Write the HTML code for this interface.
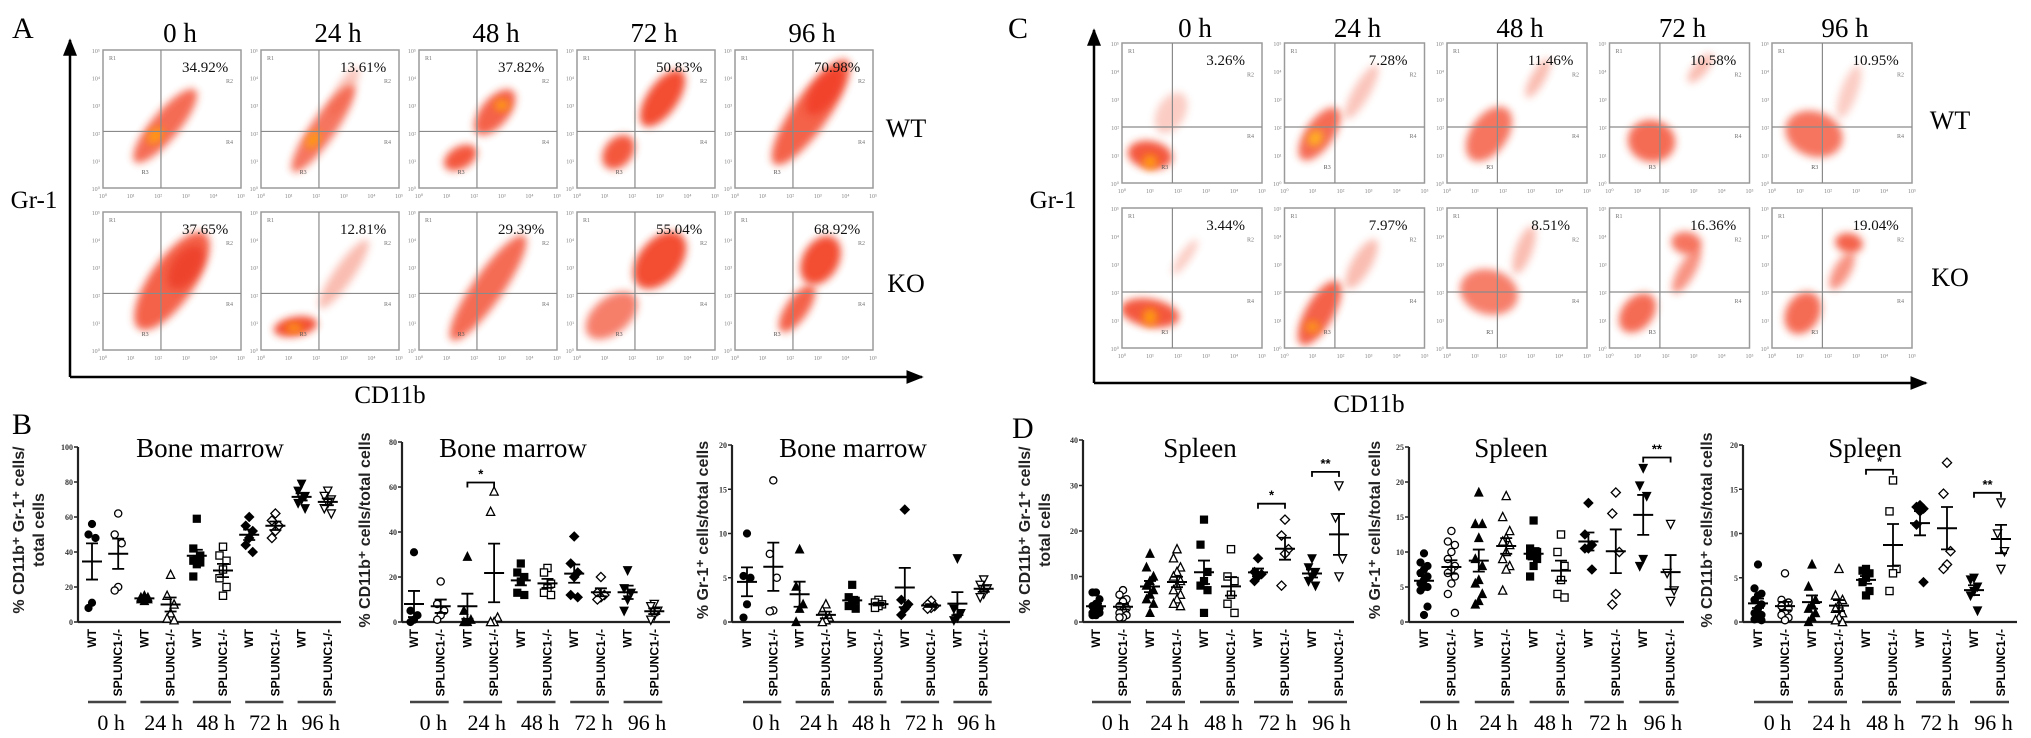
<!DOCTYPE html>
<html><head><meta charset="utf-8">
<style>
html,body{margin:0;padding:0;background:#fff;}
svg{display:block;font-family:"Liberation Serif",serif;}
.sans{font-family:"Liberation Sans",sans-serif;}
</style></head>
<body>
<svg id="fig" width="2031" height="738" viewBox="0 0 2031 738" xmlns="http://www.w3.org/2000/svg">
<defs>
<filter id="blur" x="-50%" y="-50%" width="200%" height="200%"><feGaussianBlur stdDeviation="4"/></filter>
<marker id="arr" viewBox="0 0 10 10" refX="9" refY="5" markerWidth="7" markerHeight="7" orient="auto"><path d="M0,1 L10,5 L0,9 z" fill="#000"/></marker>
</defs>
</svg>
<script>
// ---------- chart data ----------
const groups = ['0 h','24 h','48 h','72 h','96 h'];
const genotypes = ['WT','SPLUNC1-/-'];

const b1Ticks = [0,20,40,60,80,100];
const b1WT = [[56,50,48,11,8],[15,14,13,12,13,14],[59,42,38,36,35,34,33,26],[60,55,52,48,44,40],[79,75,72,70,68,65]];
const b1KO = [[62,50,45,20,18],[27,15,10,5,2,1],[43,38,35,30,25,20,15],[62,58,55,52,48],[75,72,70,68,65,62]];
const b1Sig = [];

const b2Ticks = [0,20,40,60,80];
const b2WT = [[31,5,3,1,0],[29,5,1,0,0],[26,22,20,18,13,12],[38,26,22,20,12,11],[23,15,13,10,5]];
const b2KO = [[18,8,5,3,1],[58,49,2,0,0],[24,22,17,15,13,12],[20,13,12,11,10],[8,7,5,3,1]];
const b2Sig = [{g:1,v:62,label:'*'}];

const b3Ticks = [0,5,10,15,20];
const b3WT = [[10,5.2,5,2,0.5],[8.2,4,2,1.5,0],[4.2,2.8,2.4,2,1.8,1.5],[12.7,2.5,2,1.5,0.8],[7.2,1.5,1,0.5,0.2]];
const b3KO = [[16,7.7,5,1.3,1.2],[2,1.3,0.5,0.2,0],[2.5,2.2,2,1.8,1.6],[2.4,2,1.8,1.6,1.5],[4.8,4.2,3.8,3.2,2.8]];
const b3Sig = [];

const d1Ticks = [0,10,20,30,40];
const d1WT = [[6.5,6.5,5,4,3.5,3,2.5,2,2,1.5,1.5],[15,12,10,9,8,7,6,5,4,2],[22.5,17,11,9,8,7,2],[14,11,10.5,10,9],[14,12,11,10,9,8]];
const d1KO = [[7,6,5,4.5,3.5,3,2.5,2,1.5,1,1],[16,14,12,11,10,9,8,7,6,5,4,3.5],[16,10,9,6,4,2],[22.5,19,16,15,8],[30,23,14,10]];
const d1Sig = [{g:3,v:26,label:'*'},{g:4,v:33,label:'**'}];

const d2Ticks = [0,5,10,15,20,25];
const d2WT = [[9.8,8.5,8,7.5,7,6.5,6,5.5,5,5,4.5,2.2,1],[18.5,14,14,12,9,8,6,5.5,4,3,2.5],[14.5,10.5,10,10,9.5,9,8,6.5],[17,12.5,11,10.5,10.5,7.5],[22,19.5,18,9,8]];
const d2KO = [[13,11.5,11,10,9,8,7.5,7,6.5,5.5,4,1.3],[18,15,13,12,11.5,11,10,9,8,7.5,4.5],[12.5,10,8,6,4,3.5],[18.5,15.5,10,4,2.5],[14,7,4.5,3]];
const d2Sig = [{g:4,v:23.5,label:'**'}];

const d3Ticks = [0,5,10,15,20];
const d3WT = [[6.5,3.8,3.2,3,2.5,2,1.5,1,0.8,0.5,0.3,0.2],[6.5,4,2.5,2,1.5,1,0.5,0],[6,5.8,5.5,5,4.5,3.5,3],[13.2,13,12.8,12.5,11,4.5],[5,4.8,4,3.5,3,1.3]];
const d3KO = [[5.5,2.5,2.2,2,1.8,1.5,1,0.8,0.5,0.2],[6,3,2.5,2,1.5,1,0.5,0.2,0],[16,12.5,6,5.5,3.5],[18,14.5,8,6.5,6],[13.5,10,8,6]];
const d3Sig = [{g:2,v:17.2,label:'*'},{g:4,v:14.6,label:'**'}];

// flow-cytometry percentages
const pctA_WT = ['34.92%','13.61%','37.82%','50.83%','70.98%'];
const pctA_KO = ['37.65%','12.81%','29.39%','55.04%','68.92%'];
const pctC_WT = ['3.26%','7.28%','11.46%','10.58%','10.95%'];
const pctC_KO = ['3.44%','7.97%','8.51%','16.36%','19.04%'];

// ---------- helpers ----------
const NS='http://www.w3.org/2000/svg';
const svg=document.getElementById('fig');
function mk(tag,attrs,parent){const e=document.createElementNS(NS,tag);for(const k in attrs)e.setAttribute(k,attrs[k]);(parent||svg).appendChild(e);return e;}
function txt(s,attrs,parent){const e=mk('text',attrs,parent);e.textContent=s;return e;}

// ---------- flow panels ----------
const blobsA = [
 [[[.45,.55,.34,.1,-50,.75,'#f23a1c'],[.38,.62,.07,.045,-50,1,'#ff9a10']],
  [[.45,.57,.38,.09,-55,.7,'#f23a1c'],[.6,.3,.2,.06,-60,.35,'#f25a3c'],[.38,.65,.07,.04,-55,1,'#ff9a10']],
  [[.3,.78,.13,.08,-30,.85,'#f23a1c'],[.55,.45,.2,.1,-50,.8,'#f23a1c'],[.6,.4,.05,.04,0,1,'#ff9a10']],
  [[.3,.74,.14,.1,-50,.85,'#f23a1c'],[.62,.35,.24,.11,-55,.9,'#f23a1c']],
  [[.55,.45,.46,.13,-55,.8,'#f23a1c'],[.65,.3,.2,.09,-55,.65,'#f0301a']]],
 [[[.5,.5,.42,.16,-55,.8,'#f23a1c'],[.6,.4,.18,.1,-55,.55,'#e82a14']],
  [[.25,.83,.16,.07,-10,.9,'#f23a1c'],[.24,.84,.06,.03,0,1,'#ff9a10'],[.6,.45,.3,.07,-55,.4,'#f25a3c']],
  [[.5,.55,.46,.11,-55,.75,'#f23a1c']],
  [[.25,.75,.22,.13,-40,.65,'#f23a1c'],[.6,.35,.24,.15,-50,.9,'#f23a1c']],
  [[.45,.7,.2,.08,-55,.8,'#f23a1c'],[.62,.35,.19,.13,-60,.9,'#f23a1c']]]
];
const blobsC = [
 [[[.2,.8,.1,.16,-80,.85,'#f23a1c'],[.2,.85,.05,.05,0,1,'#ff9a10'],[.35,.5,.16,.1,-60,.3,'#f25a3c']],
  [[.25,.65,.22,.1,-55,.75,'#f23a1c'],[.22,.68,.06,.05,-50,1,'#ffb020'],[.55,.35,.22,.06,-60,.35,'#f25a3c']],
  [[.3,.65,.22,.13,-55,.7,'#f23a1c'],[.65,.25,.16,.05,-60,.4,'#f25a3c']],
  [[.3,.7,.15,.17,-80,.75,'#f23a1c'],[.65,.18,.13,.05,-50,.4,'#f25a3c']],
  [[.3,.65,.16,.21,-70,.7,'#f23a1c'],[.55,.35,.2,.06,-70,.3,'#f25a3c']]],
 [[[.2,.75,.1,.21,-80,.85,'#f23a1c'],[.2,.78,.05,.06,0,1,'#ff9a10'],[.45,.35,.15,.04,-55,.3,'#f25a3c']],
  [[.25,.75,.26,.1,-60,.8,'#f23a1c'],[.2,.85,.05,.04,0,.9,'#ff9a10'],[.55,.4,.2,.07,-60,.4,'#f25a3c']],
  [[.3,.6,.16,.21,-75,.65,'#f23a1c'],[.55,.3,.18,.06,-70,.4,'#f25a3c']],
  [[.2,.75,.16,.11,-50,.75,'#f23a1c'],[.55,.45,.18,.06,-60,.55,'#f23a1c'],[.55,.25,.08,.11,-80,.7,'#f23a1c']],
  [[.22,.75,.16,.12,-60,.75,'#f23a1c'],[.5,.45,.15,.06,-60,.55,'#f23a1c'],[.55,.25,.07,.1,-80,.8,'#f23a1c']]]
];

function flowPlot(x0,y0,w,h,vfrac,hfrac,blobs,pct,name){
  const g=mk('g',{});
  
  
  const clipId='c'+name;
  const cp=mk('clipPath',{id:clipId},g);
  mk('rect',{x:x0,y:y0,width:w,height:h},cp);
  const bg=mk('g',{'clip-path':'url(#'+clipId+')'},g);
  blobs.forEach(b=>{
    const e=mk('ellipse',{cx:x0+b[0]*w,cy:y0+b[1]*h,rx:b[2]*w,ry:b[3]*h,fill:b[6],opacity:b[5],filter:'url(#blur)',transform:`rotate(${b[4]} ${x0+b[0]*w} ${y0+b[1]*h})`},bg);
    
    
  });
  const box=mk('rect',{x:x0,y:y0,width:w,height:h,fill:'none',stroke:'#9a9a9a','stroke-width':1.5},g);
  
  
  mk('line',{x1:x0+vfrac*w,y1:y0,x2:x0+vfrac*w,y2:y0+h,stroke:'#8a8a8a','stroke-width':1.2},g);
  mk('line',{x1:x0,y1:y0+hfrac*h,x2:x0+w,y2:y0+hfrac*h,stroke:'#8a8a8a','stroke-width':1.2},g);
  for(let i=0;i<6;i++){
    const tx=txt('10'+'⁰¹²³⁴⁵'[i],{x:x0+i*w/5,y:y0+h+10,'font-size':6,fill:'#888','text-anchor':'middle'},g);
    
    
    const ty=txt('10'+'⁰¹²³⁴⁵'[5-i],{x:x0-3,y:y0+i*h/5+3,'font-size':6,fill:'#888','text-anchor':'end'},g);
    
    
  }
  txt('R1',{x:x0+6,y:y0+10,'font-size':6,fill:'#777'},g);
  txt('R2',{x:x0+w-8,y:y0+h*0.24,'font-size':6,fill:'#777','text-anchor':'end'},g);
  txt('R4',{x:x0+w-8,y:y0+h*0.68,'font-size':6,fill:'#777','text-anchor':'end'},g);
  txt('R3',{x:x0+w*0.28,y:y0+h*0.9,'font-size':6,fill:'#555'},g);
  const p=txt(pct,{x:x0+w*0.74,y:y0+22,'font-size':15,fill:'#111','text-anchor':'middle'},g);
  
  
}

function flowPanel(cfg){
  const L=txt(cfg.letter,{x:cfg.letterX,y:38,'font-size':30});
  
  
  for(let i=0;i<5;i++){
    const x0=cfg.x0+i*cfg.step;
    const hd=txt(groups[i],{x:x0+cfg.w/2+cfg.hdOff,y:cfg.hdY,'font-size':27,'text-anchor':'middle'});
    
    
    flowPlot(x0,cfg.r1,cfg.w,cfg.h,cfg.vf,cfg.hf1,cfg.blobs[0][i],cfg.pctWT[i],cfg.letter+'-wt-'+i);
    flowPlot(x0,cfg.r2,cfg.w,cfg.h,cfg.vf,cfg.hf2,cfg.blobs[1][i],cfg.pctKO[i],cfg.letter+'-ko-'+i);
  }
  const va=mk('line',{x1:cfg.ax,y1:cfg.axB,x2:cfg.ax,y2:cfg.axT,stroke:'#000','stroke-width':2.5,'marker-end':'url(#arr)'});
  
  
  const ha=mk('line',{x1:cfg.ax,y1:cfg.axB,x2:cfg.axR,y2:cfg.axB,stroke:'#000','stroke-width':2.5,'marker-end':'url(#arr)'});
  
  
  const gy=txt('Gr-1',{x:cfg.grX,y:cfg.grY,'font-size':25,'text-anchor':'middle'});
  
  
  const cx=txt('CD11b',{x:cfg.cdX,y:cfg.cdY,'font-size':25,'text-anchor':'middle'});
  
  
  const wt=txt('WT',{x:cfg.rowX,y:cfg.wtY,'font-size':26,'text-anchor':'middle'});
  
  
  const ko=txt('KO',{x:cfg.rowX,y:cfg.koY,'font-size':26,'text-anchor':'middle'});
  
  
}

flowPanel({letter:'A',letterX:12,x0:103,step:158,w:138,h:138,r1:50,r2:212,vf:0.42,hf1:0.59,hf2:0.59,hdY:42,hdOff:8,
  blobs:blobsA,pctWT:pctA_WT,pctKO:pctA_KO,ax:70,axT:40,axB:377,axR:922,grX:34,grY:208,cdX:390,cdY:403,rowX:906,wtY:137,koY:292});
flowPanel({letter:'C',letterX:1008,x0:1122,step:162.5,w:140,h:140,r1:43,r2:208,vf:0.36,hf1:0.6,hf2:0.6,hdY:37,hdOff:3,
  blobs:blobsC,pctWT:pctC_WT,pctKO:pctC_KO,ax:1094,axT:30,axB:383,axR:1926,grX:1053,grY:208,cdX:1369,cdY:412,rowX:1950,wtY:129,koY:286});

// ---------- scatter charts ----------
const shapes=['circle','triUp','square','diamond','triDown'];
function marker(shape,cx,cy,filled,parent){
  const r=3.6;
  const st={fill:filled?'#000':'#fff',stroke:'#000','stroke-width':filled?1:1.3};
  let e;
  if(shape==='circle') e=mk('circle',Object.assign({cx:cx,cy:cy,r:r},st),parent);
  else if(shape==='square') e=mk('rect',Object.assign({x:cx-r,y:cy-r,width:2*r,height:2*r},st),parent);
  else{
    let pts;
    if(shape==='triUp') pts=[[cx,cy-r-1],[cx+r+0.5,cy+r],[cx-r-0.5,cy+r]];
    else if(shape==='triDown') pts=[[cx,cy+r+1],[cx+r+0.5,cy-r],[cx-r-0.5,cy-r]];
    else pts=[[cx,cy-r-1],[cx+r+1,cy],[cx,cy+r+1],[cx-r-1,cy]];
    e=mk('polygon',Object.assign({points:pts.map(p=>p.join(',')).join(' ')},st),parent);
  }
  
  
}
function meanSem(a){const n=a.length;const m=a.reduce((s,v)=>s+v,0)/n;const sd=Math.sqrt(a.reduce((s,v)=>s+(v-m)*(v-m),0)/(n-1));return [m,sd/Math.sqrt(n)];}

function chart(c){
  const g=mk('g',{});
  
  
  const y0=622,yT=c.yTop;
  const max=c.ticks[c.ticks.length-1];
  const yS=v=>y0-v/max*(y0-yT);
  const xS=i=>c.col0+i*c.step;
  const ax=mk('line',{x1:c.axisX,y1:y0,x2:c.axisX,y2:yT,stroke:'#222','stroke-width':2.2},g);
  
  
  const bx=mk('line',{x1:c.axisX,y1:y0,x2:c.axisEnd,y2:y0,stroke:'#222','stroke-width':2.2},g);
  
  
  c.ticks.forEach(t=>{
    mk('line',{x1:c.axisX-4,y1:yS(t),x2:c.axisX,y2:yS(t),stroke:'#222','stroke-width':1.5},g);
    const tl=txt(String(t),{x:c.axisX-5,y:yS(t)+3,'font-size':8,'font-weight':'bold','text-anchor':'end',fill:'#333'},g);
    
    
  });
  const ti=txt(c.title,{x:c.titleX,y:457,'font-size':27,'text-anchor':'middle'},g);
  
  
  c.ylab.forEach((s,k)=>{
    const yl=txt(s,{x:c.ylabX[k],y:530,'font-size':16,'font-weight':'bold','text-anchor':'middle',class:'sans',fill:'#222',transform:`rotate(-90 ${c.ylabX[k]} 530)`},g);
    
    
  });
  for(let gi=0;gi<5;gi++){
    [c.wt[gi],c.ko[gi]].forEach((vals,k)=>{
      const col=gi*2+k;
      const x=xS(col);
      vals.forEach((v,j)=>{
        const off=(j%3===0?0:(j%3===1?-3.5:3.5));
        marker(shapes[gi],x+off,yS(v),k===0,g);
      });
      const ms=meanSem(vals);
      const mL=mk('line',{x1:x-10,y1:yS(ms[0]),x2:x+10,y2:yS(ms[0]),stroke:'#000','stroke-width':2},g);
      
      
      const eb=mk('path',{d:`M${x},${yS(ms[0]+ms[1])}V${yS(Math.max(0,ms[0]-ms[1]))}M${x-6},${yS(ms[0]+ms[1])}H${x+6}M${x-6},${yS(Math.max(0,ms[0]-ms[1]))}H${x+6}`,stroke:'#000','stroke-width':1.8,fill:'none'},g);
      
      
      const cl=txt(genotypes[k],{x:x+4,y:629,'font-size':12,'font-weight':'bold','text-anchor':'end',class:'sans',transform:`rotate(-90 ${x+4} 629)`},g);
      
      
    });
    const xa=xS(gi*2)-4,xb=xS(gi*2+1)+8;
    const ul=mk('line',{x1:xa,y1:702,x2:xb,y2:702,stroke:'#444','stroke-width':2.5},g);
    
    
    const gl=txt(groups[gi],{x:(xa+xb)/2+4,y:730,'font-size':22,'text-anchor':'middle'},g);
    
    
  }
  c.sig.forEach(s=>{
    const xa=xS(s.g*2),xb=xS(s.g*2+1),yy=yS(s.v);
    const br=mk('path',{d:`M${xa},${yy+5}V${yy}H${xb}V${yy+5}`,stroke:'#000','stroke-width':1.8,fill:'none'},g);
    
    
    const st=txt(s.label,{x:(xa+xb)/2,y:yy-4,'font-size':13,'font-weight':'bold','text-anchor':'middle',class:'sans'},g);
    
    
  });
}

const Bl=txt('B',{x:12,y:434,'font-size':30});


const Dl=txt('D',{x:1012,y:438,'font-size':30});



chart({name:'chart-bm-cd11b-gr1',wt:b1WT,ko:b1KO,ticks:b1Ticks,sig:b1Sig,yTop:447,axisX:78,axisEnd:341,col0:92,step:26.2,title:'Bone marrow',titleX:210,ylab:['% CD11b⁺ Gr-1⁺ cells/','total cells'],ylabX:[24,44]});
chart({name:'chart-bm-cd11b',wt:b2WT,ko:b2KO,ticks:b2Ticks,sig:b2Sig,yTop:442,axisX:402,axisEnd:670,col0:414,step:26.7,title:'Bone marrow',titleX:513,ylab:['% CD11b⁺ cells/total cells'],ylabX:[370]});
chart({name:'chart-bm-gr1',wt:b3WT,ko:b3KO,ticks:b3Ticks,sig:b3Sig,yTop:445,axisX:732,axisEnd:1010,col0:747,step:26.3,title:'Bone marrow',titleX:853,ylab:['% Gr-1⁺  cells/total cells'],ylabX:[708]});
chart({name:'chart-spleen-cd11b-gr1',wt:d1WT,ko:d1KO,ticks:d1Ticks,sig:d1Sig,yTop:440,axisX:1083,axisEnd:1354,col0:1096,step:27,title:'Spleen',titleX:1200,ylab:['% CD11b⁺ Gr-1⁺ cells/','total cells'],ylabX:[1030,1050]});
chart({name:'chart-spleen-gr1',wt:d2WT,ko:d2KO,ticks:d2Ticks,sig:d2Sig,yTop:447,axisX:1409,axisEnd:1684,col0:1424,step:27.4,title:'Spleen',titleX:1511,ylab:['% Gr-1⁺ cells/total cells'],ylabX:[1380]});
chart({name:'chart-spleen-cd11b',wt:d3WT,ko:d3KO,ticks:d3Ticks,sig:d3Sig,yTop:445,axisX:1743,axisEnd:2017,col0:1758,step:27,title:'Spleen',titleX:1865,ylab:['% CD11b⁺ cells/total cells'],ylabX:[1712]});
</script>
</body></html>
